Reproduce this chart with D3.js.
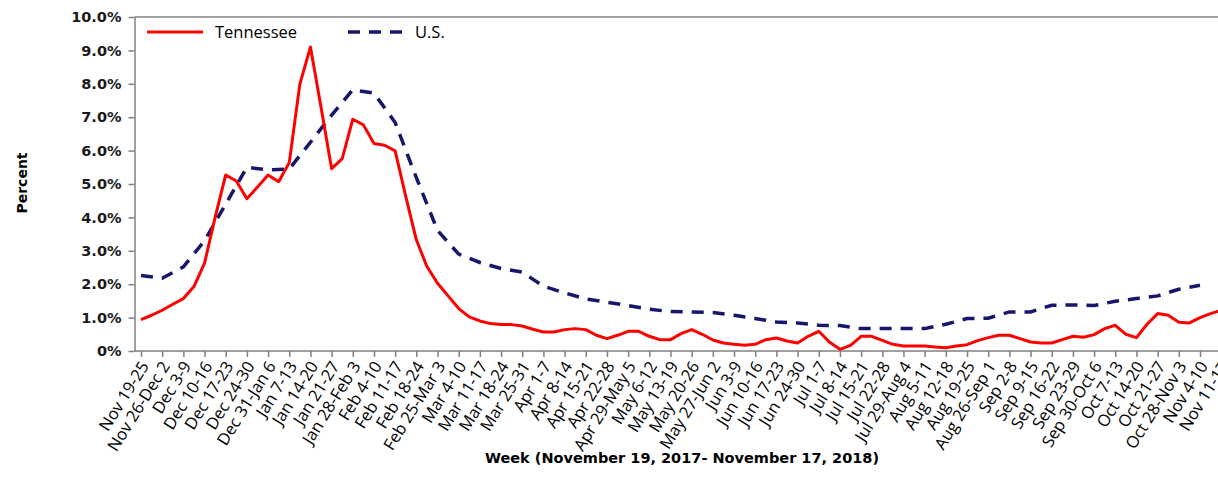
<!DOCTYPE html>
<html>
<head>
<meta charset="utf-8">
<script src="https://cdn.jsdelivr.net/npm/d3@7"></script>
<style>
  html, body { margin: 0; padding: 0; background: #fff; }
  svg { display: block; }
</style>
</head>
<body>
<svg id="chart" width="1218" height="498"></svg>
<script>
// Week labels (52 weeks)
const weeks = [
  "Nov 19-25","Nov 26-Dec 2","Dec 3-9","Dec 10-16","Dec 17-23","Dec 24-30",
  "Dec 31-Jan 6","Jan 7-13","Jan 14-20","Jan 21-27","Jan 28-Feb 3","Feb 4-10",
  "Feb 11-17","Feb 18-24","Feb 25-Mar 3","Mar 4-10","Mar 11-17","Mar 18-24",
  "Mar 25-31","Apr 1-7","Apr 8-14","Apr 15-21","Apr 22-28","Apr 29-May 5",
  "May 6-12","May 13-19","May 20-26","May 27-Jun 2","Jun 3-9","Jun 10-16",
  "Jun 17-23","Jun 24-30","Jul 1-7","Jul 8-14","Jul 15-21","Jul 22-28",
  "Jul 29-Aug 4","Aug 5-11","Aug 12-18","Aug 19-25","Aug 26-Sep 1","Sep 2-8",
  "Sep 9-15","Sep 16-22","Sep 23-29","Sep 30-Oct 6","Oct 7-13","Oct 14-20",
  "Oct 21-27","Oct 28-Nov 3","Nov 4-10","Nov 11-17"
];

// Tennessee percent, read at half-week steps (index k -> week k/2)
const tennessee = [
  0.94,1.07,1.22,1.40,1.57,1.93,2.63,4.00,5.27,5.09,
  4.56,4.91,5.27,5.07,5.64,7.99,9.10,7.30,5.46,5.76,
  6.94,6.77,6.21,6.16,5.99,4.63,3.33,2.53,2.03,1.65,
  1.27,1.02,0.90,0.82,0.79,0.79,0.75,0.65,0.57,0.57,
  0.64,0.67,0.64,0.47,0.37,0.47,0.59,0.59,0.44,0.34,
  0.34,0.52,0.64,0.50,0.33,0.24,0.20,0.17,0.20,0.34,
  0.39,0.30,0.24,0.44,0.59,0.27,0.05,0.17,0.44,0.44,
  0.32,0.20,0.15,0.15,0.15,0.12,0.10,0.15,0.19,0.31,
  0.40,0.47,0.47,0.37,0.27,0.24,0.24,0.34,0.44,0.41,
  0.49,0.67,0.77,0.50,0.40,0.80,1.12,1.07,0.86,0.84,
  1.00,1.12,1.22
];

// U.S. percent, weekly (through Nov 4-10)
const us = [
  2.26,2.18,2.52,3.30,4.40,5.50,5.42,5.45,6.25,7.06,
  7.82,7.72,6.84,5.19,3.61,2.90,2.65,2.47,2.36,1.94,
  1.74,1.56,1.46,1.36,1.25,1.18,1.17,1.15,1.07,0.97,
  0.87,0.84,0.77,0.76,0.67,0.67,0.67,0.67,0.80,0.97,
  0.98,1.17,1.17,1.37,1.38,1.36,1.49,1.57,1.65,1.85,
  1.97
];

const yTicks = [0,1,2,3,4,5,6,7,8,9,10];

const svg = d3.select("#chart");
const W = 1218;
const plotLeft = 134.5, plotTop = 17, plotBottom = 351;

const x = d3.scaleLinear().domain([0, weeks.length - 1]).range([141, 141 + 21.18 * (weeks.length - 1)]);
const y = d3.scaleLinear().domain([0, 10]).range([plotBottom, plotTop]);

const axisColor = "#808080";

// Frame (top border)
svg.append("line")
  .attr("x1", plotLeft).attr("x2", W + 5)
  .attr("y1", plotTop).attr("y2", plotTop)
  .attr("stroke", axisColor).attr("stroke-width", 1.5);

// Y axis
const yAxis = d3.axisLeft(y)
  .tickValues(yTicks)
  .tickFormat(v => v === 0 ? "0%" : v.toFixed(1) + "%")
  .tickSize(6).tickSizeOuter(0).tickPadding(7);
const gy = svg.append("g").attr("transform", `translate(${plotLeft},0)`).call(yAxis);
gy.select(".domain").attr("stroke", axisColor).attr("stroke-width", 1.5);
gy.selectAll(".tick line").attr("stroke", axisColor).attr("stroke-width", 1.5);
gy.selectAll(".tick text")
  .attr("font-family", "DejaVu Sans, sans-serif")
  .attr("font-weight", "bold")
  .attr("font-size", "14.5px")
  .attr("fill", "#1a1a1a");

// X axis
const xAxis = d3.axisBottom(x)
  .tickValues(d3.range(weeks.length))
  .tickFormat(i => weeks[i])
  .tickSize(6).tickSizeOuter(0);
const gx = svg.append("g").attr("transform", `translate(0,${plotBottom})`).call(xAxis);
gx.select(".domain").remove();
gx.append("line")
  .attr("x1", plotLeft).attr("x2", W + 5)
  .attr("y1", 0).attr("y2", 0)
  .attr("stroke", axisColor).attr("stroke-width", 1.5);
gx.selectAll(".tick line").attr("stroke", axisColor).attr("stroke-width", 1.5);
gx.selectAll(".tick text")
  .attr("x", 0).attr("y", 0).attr("dy", "0.35em")
  .attr("text-anchor", "end")
  .attr("transform", "translate(3,12) rotate(-58)")
  .attr("font-family", "Open Sans, sans-serif")
  .attr("font-size", "16.5px")
  .attr("fill", "#000");

// Lines
const lineTN = d3.line().x((d, k) => x(k / 2)).y(d => y(d));
const lineUS = d3.line().x((d, i) => x(i)).y(d => y(d));

svg.append("path")
  .datum(us)
  .attr("d", lineUS)
  .attr("fill", "none")
  .attr("stroke", "#16166a")
  .attr("stroke-width", 3.5)
  .attr("stroke-dasharray", "12,9");

svg.append("path")
  .datum(tennessee)
  .attr("d", lineTN)
  .attr("fill", "none")
  .attr("stroke", "#ff0000")
  .attr("stroke-width", 3)
  .attr("stroke-linejoin", "round");

// Legend
const legend = svg.append("g");
legend.append("line").attr("x1", 147).attr("x2", 203).attr("y1", 32).attr("y2", 32)
  .attr("stroke", "#ff0000").attr("stroke-width", 3);
legend.append("text").attr("x", 215).attr("y", 38).text("Tennessee")
  .attr("font-family", "Open Sans, sans-serif").attr("font-size", "16.5px").attr("fill", "#000");
legend.append("line").attr("x1", 348).attr("x2", 405).attr("y1", 32).attr("y2", 32)
  .attr("stroke", "#16166a").attr("stroke-width", 3.5).attr("stroke-dasharray", "12,9");
legend.append("text").attr("x", 415).attr("y", 38).text("U.S.")
  .attr("font-family", "Open Sans, sans-serif").attr("font-size", "16.5px").attr("fill", "#000");

// Axis titles
svg.append("text")
  .attr("transform", "translate(27,183) rotate(-90)")
  .attr("text-anchor", "middle")
  .attr("font-family", "DejaVu Sans, sans-serif")
  .attr("font-weight", "bold").attr("font-size", "14px")
  .attr("fill", "#000")
  .text("Percent");

svg.append("text")
  .attr("x", 682).attr("y", 463)
  .attr("text-anchor", "middle")
  .attr("font-family", "DejaVu Sans, sans-serif")
  .attr("font-weight", "bold").attr("font-size", "14.5px")
  .attr("fill", "#000")
  .text("Week (November 19, 2017- November 17, 2018)");
</script>
</body>
</html>
